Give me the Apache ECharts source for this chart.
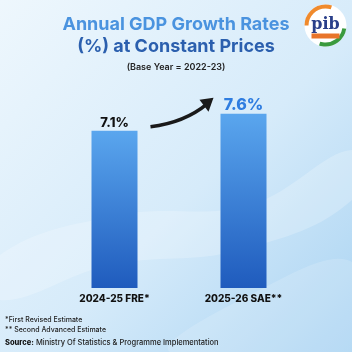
<!DOCTYPE html>
<html>
<head>
<meta charset="utf-8">
<script src="https://cdn.jsdelivr.net/npm/echarts@6/dist/echarts.min.js"></script>
<style>
html, body { margin: 0; padding: 0; }
#chart { width: 352px; height: 352px; }
</style>
</head>
<body>
<div id="chart"></div>
<script>
var categories = ["2024-25 FRE*", "2025-26 SAE**"];
var growth = [7.1, 7.6];
var valueLabels = ["7.1%", "7.6%"];

var chart = echarts.init(document.getElementById("chart"));
var font = "Inter";

var option = {
    backgroundColor: {
        type: "linear", x: 0, y: 0, x2: 1, y2: 1,
        colorStops: [
            { offset: 0, color: "#eef7fd" },
            { offset: 0.55, color: "#d6ebfa" },
            { offset: 1, color: "#a9d3f2" }
        ]
    },
    title: [{
        text: "Annual GDP Growth Rates",
        left: "center", top: 11,
        textStyle: { fontFamily: font, fontSize: 18, fontWeight: 700, color: "#4a93df" }
    }, {
        text: "(%) at Constant Prices",
        left: "center", top: 33,
        textStyle: { fontFamily: font, fontSize: 18, fontWeight: 700, color: "#2b5fae" }
    }, {
        text: "(Base Year = 2022-23)",
        left: "center", top: 58,
        textStyle: { fontFamily: font, fontSize: 9, fontWeight: 600, color: "#222" }
    }],
    grid: { left: 50, right: 44, top: 100, bottom: 64 },
    xAxis: {
        type: "category",
        data: categories,
        axisLine: { show: false },
        axisTick: { show: false },
        axisLabel: {
            margin: 6,
            fontFamily: font, fontSize: 10, fontWeight: 800, color: "#111"
        }
    },
    yAxis: {
        type: "value",
        min: 2.5, max: 8,
        show: false,
        splitLine: { show: false }
    },
    series: [{
        type: "bar",
        barWidth: 46,
        data: growth.map(function (v, i) {
            return {
                value: v,
                label: i === 0
                    ? { fontSize: 13, color: "#111", distance: 1 }
                    : { fontSize: 16, color: "#2f7de0", distance: 0 }
            };
        }),
        itemStyle: {
            color: {
                type: "linear", x: 0, y: 0, x2: 0, y2: 1,
                colorStops: [
                    { offset: 0, color: "#5aa6ee" },
                    { offset: 1, color: "#1f5bbd" }
                ]
            }
        },
        label: {
            show: true,
            position: "top",
            fontFamily: font,
            fontWeight: 800,
            formatter: function (p) { return valueLabels[p.dataIndex]; }
        }
    }],
    graphic: [
        // soft background waves
        {
            type: "polygon", silent: true, z: -10,
            shape: { smooth: 0.4, points: [[0, 255], [120, 215], [250, 205], [352, 150], [352, 200], [240, 250], [110, 265], [0, 300]] },
            style: { fill: "rgba(255,255,255,0.22)" }
        },
        {
            type: "polygon", silent: true, z: -10,
            shape: { smooth: 0.4, points: [[170, 352], [250, 295], [352, 262], [352, 352]] },
            style: { fill: "rgba(255,255,255,0.16)" }
        },
        // footnotes
        {
            type: "text", left: 5, top: 316,
            style: { text: "*First Revised Estimate", font: "500 7px Inter", fill: "#222" }
        },
        {
            type: "text", left: 5, top: 326,
            style: { text: "** Second Advanced Estimate", font: "500 7px Inter", fill: "#222" }
        },
        {
            type: "text", left: 5, top: 339,
            style: {
                text: "{b|Source:} Ministry Of Statistics & Programme Implementation",
                font: "500 7.5px Inter", fill: "#222",
                rich: { b: { fontFamily: font, fontWeight: 800, fontSize: 7.5, fill: "#111" } }
            }
        },
        // pib logo
        {
            type: "group", left: 304, top: 4,
            children: [
                { type: "circle", shape: { cx: 21, cy: 21, r: 21 }, style: { fill: "#fff" } },
                { type: "arc", shape: { cx: 21, cy: 21, r: 19, startAngle: Math.PI * 1.0, endAngle: Math.PI * 1.6 }, style: { stroke: "#f08a2c", lineWidth: 4, fill: null } },
                { type: "arc", shape: { cx: 21, cy: 21, r: 19, startAngle: Math.PI * 0.05, endAngle: Math.PI * 0.6 }, style: { stroke: "#3a9a3e", lineWidth: 4, fill: null } },
                { type: "text", style: { x: 21, y: 20, text: "pib", font: "600 16px 'DejaVu Serif'", fill: "#2a3f8a", align: "center", verticalAlign: "middle" } },
                { type: "rect", shape: { x: 7, y: 29, width: 28, height: 5 }, style: { fill: "#e8742a" } }
            ]
        }
    ]
};
chart.setOption(option);

// curved arrow from first label toward second, anchored to the data
var p1 = chart.convertToPixel({ seriesIndex: 0 }, [0, growth[0]]);
var p2 = chart.convertToPixel({ seriesIndex: 0 }, [1, growth[1]]);
var sx = p1[0] + 36, sy = p1[1] - 4;
var ex = p2[0] - 36, ey = p2[1] - 10;
var arrowGraphics = option.graphic.concat([{
    type: "bezierCurve", silent: true,
    shape: { x1: sx, y1: sy, x2: ex, y2: ey, cpx1: sx + 34, cpy1: sy - 4 },
    style: { stroke: "#1a1a1a", lineWidth: 3.5, fill: null }
}, {
    type: "polygon", silent: true,
    shape: { points: [[ex + 6, ey - 6], [ex - 8, ey - 4], [ex + 1, ey + 8]] },
    style: { fill: "#1a1a1a" }
}]);
chart.setOption({ graphic: arrowGraphics });
</script>
</body>
</html>
